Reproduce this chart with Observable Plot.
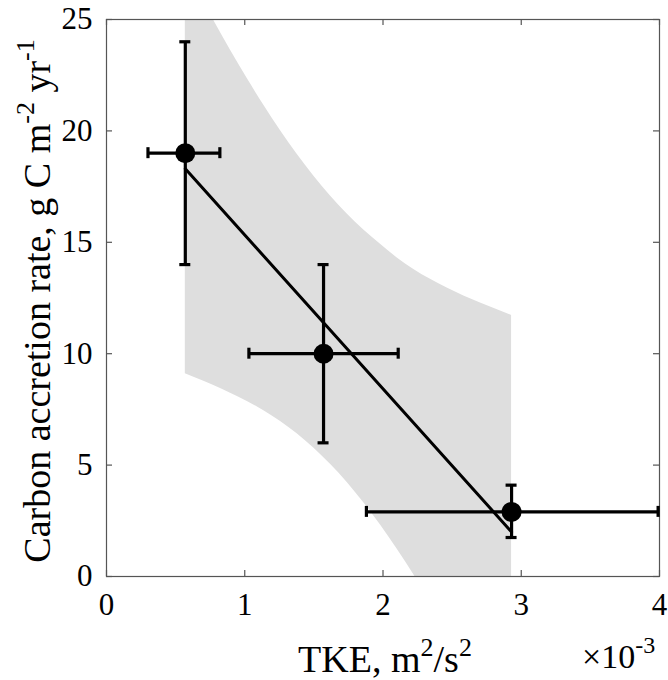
<!DOCTYPE html>
<html><head><meta charset="utf-8">
<script src="https://cdn.jsdelivr.net/npm/d3@7"></script>
<script src="https://cdn.jsdelivr.net/npm/@observablehq/plot@0.6"></script>
<style>body{margin:0;background:#fff} svg{display:block}</style>
</head><body><div id="chart"></div>
<script>
// Observations (TKE in units of 1e-3 m^2/s^2)
const tke = [0.57, 1.57, 2.93];
const tkeLow = [0.30, 1.03, 1.88];
const tkeHigh = [0.82, 2.11, 3.99];
const accretion = [19, 10, 2.9];
const accretionLow = [14, 6, 1.75];
const accretionHigh = [24, 14, 4.1];
// Linear fit
const fitX = [0.57, 2.93];
const fitY = [18.3, 2.0];
// Confidence band
const bandX = [0.57, 0.65, 0.776, 0.897, 1.018, 1.138, 1.259, 1.379, 1.499, 1.620, 1.741, 1.861, 1.982, 2.103, 2.223, 2.464, 2.705, 2.93];
const bandUpper = [27.36, 26.40, 24.95, 23.62, 22.35, 21.15, 20.01, 18.95, 17.98, 17.08, 16.27, 15.55, 14.91, 14.30, 13.78, 12.95, 12.27, 11.72];
const bandLower = [9.10, 8.90, 8.57, 8.23, 7.86, 7.44, 6.96, 6.41, 5.77, 5.04, 4.22, 3.31, 2.31, 1.22, 0.08, -2.38, -4.98, -7.52];
// Ticks
const xTicks = [0, 1, 2, 3, 4];
const yTicks = [0, 5, 10, 15, 20, 25];

const points = tke.map((x, i) => ({x, xlo: tkeLow[i], xhi: tkeHigh[i], y: accretion[i], ylo: accretionLow[i], yhi: accretionHigh[i]}));
const band = bandX.map((x, i) => ({x, lo: bandLower[i], hi: bandUpper[i]}));
const fit = fitX.map((x, i) => ({x, y: fitY[i]}));

const sw = 3.2, cap = -5.5, tk = "#555";
const chart = Plot.plot({
  width: 668, height: 680,
  marginLeft: 106, marginRight: 9, marginTop: 19, marginBottom: 104,
  style: {fontFamily: "'Liberation Serif', 'Times New Roman', serif", fontSize: "31px", color: "#000", background: "#fff"},
  x: {domain: [0, 4]},
  y: {domain: [0, 25]},
  marks: [
    Plot.areaY(band, {x: "x", y1: "lo", y2: "hi", fill: "#dedede", curve: "monotone-x", clip: true}),
    Plot.frame({stroke: tk, strokeWidth: 1.2}),
    // inward ticks on all four sides
    Plot.ruleX(xTicks, {x: d => d, y1: () => 0, y2: () => 0, insetTop: -6, stroke: tk, strokeWidth: 1.2}),
    Plot.ruleX(xTicks, {x: d => d, y1: () => 25, y2: () => 25, insetBottom: -6, stroke: tk, strokeWidth: 1.2}),
    Plot.ruleY(yTicks, {y: d => d, x1: () => 0, x2: () => 0, insetRight: -6, stroke: tk, strokeWidth: 1.2}),
    Plot.ruleY(yTicks, {y: d => d, x1: () => 4, x2: () => 4, insetLeft: -6, stroke: tk, strokeWidth: 1.2}),
    Plot.axisX(xTicks, {tickSize: 0, tickPadding: 16, label: null, tickFormat: d => String(d)}),
    Plot.axisY(yTicks, {tickSize: 0, tickPadding: 14, label: null, tickFormat: d => String(d)}),
    // fit line
    Plot.line(fit, {x: "x", y: "y", stroke: "black", strokeWidth: 3}),
    // error bars
    Plot.ruleX(points, {x: "x", y1: "ylo", y2: "yhi", stroke: "black", strokeWidth: sw}),
    Plot.ruleY(points, {y: "ylo", x1: "x", x2: "x", insetLeft: cap, insetRight: cap, stroke: "black", strokeWidth: sw}),
    Plot.ruleY(points, {y: "yhi", x1: "x", x2: "x", insetLeft: cap, insetRight: cap, stroke: "black", strokeWidth: sw}),
    Plot.ruleY(points, {y: "y", x1: "xlo", x2: "xhi", stroke: "black", strokeWidth: sw}),
    Plot.ruleX(points, {x: "xlo", y1: "y", y2: "y", insetTop: cap, insetBottom: cap, stroke: "black", strokeWidth: sw}),
    Plot.ruleX(points, {x: "xhi", y1: "y", y2: "y", insetTop: cap, insetBottom: cap, stroke: "black", strokeWidth: sw}),
    Plot.dot(points, {x: "x", y: "y", r: 10, fill: "black", stroke: "none"})
  ]
});
document.getElementById("chart").append(chart);

const svg = d3.select(chart);
// y label
const yl = svg.append("text")
  .attr("transform", "translate(50,301) rotate(-90)")
  .attr("text-anchor", "middle")
  .style("font-size", "38px").attr("fill", "#000");
yl.append("tspan").text("Carbon accretion rate, g C m");
yl.append("tspan").attr("dy", -16).style("font-size", "26px").text("-2");
yl.append("tspan").attr("dy", 16).text(" yr");
yl.append("tspan").attr("dy", -16).style("font-size", "26px").text("-1");
// x label
const xl = svg.append("text")
  .attr("x", 385).attr("y", 672)
  .attr("text-anchor", "middle")
  .style("font-size", "38px").attr("fill", "#000");
xl.append("tspan").text("TKE, m");
xl.append("tspan").attr("dy", -16).style("font-size", "26px").text("2");
xl.append("tspan").attr("dy", 16).text("/s");
xl.append("tspan").attr("dy", -16).style("font-size", "26px").text("2");
// exponent
const ex = svg.append("text")
  .attr("x", 582).attr("y", 668)
  .attr("text-anchor", "start")
  .style("font-size", "34px").attr("fill", "#000");
ex.append("tspan").text("×10");
ex.append("tspan").attr("dy", -15).style("font-size", "24px").text("-3");
</script>
</body></html>
